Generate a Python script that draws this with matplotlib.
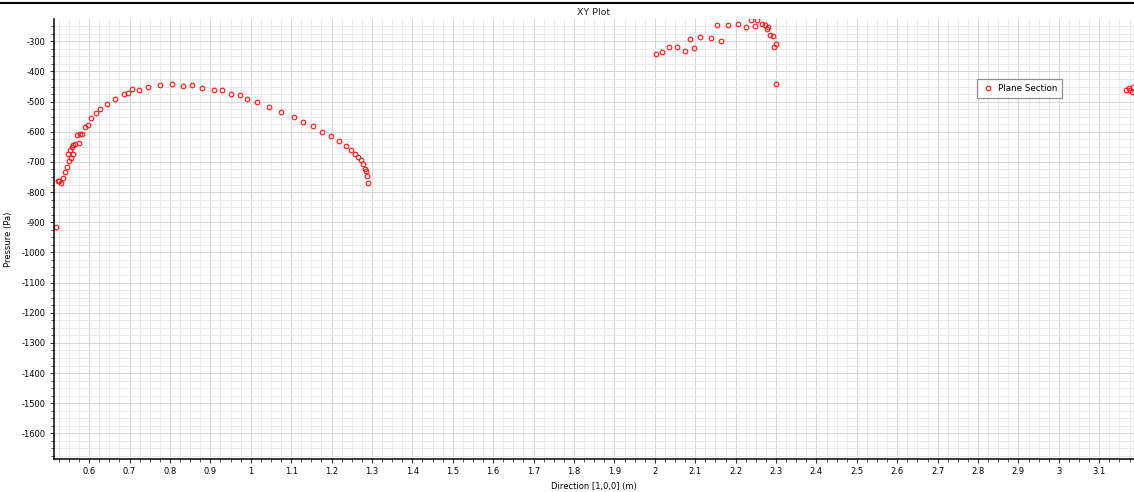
"""
XY Plot: pressure along the plane section, direction [1,0,0]
"""
import matplotlib
matplotlib.use("Agg")
import matplotlib.pyplot as plt
from matplotlib.lines import Line2D
from matplotlib.ticker import MultipleLocator, FuncFormatter

# ── data (m, Pa) ──
arc_x = [0.518, 0.523, 0.526, 0.530, 0.535, 0.541, 0.546, 0.550, 0.554, 0.560,
         0.547, 0.553, 0.557, 0.561, 0.566, 0.574, 0.570, 0.578, 0.583, 0.590,
         0.597, 0.605, 0.616, 0.628, 0.643, 0.663, 0.686, 0.697, 0.706, 0.723,
         0.746, 0.775, 0.805, 0.833, 0.855, 0.880, 0.908, 0.928, 0.951, 0.973,
         0.991, 1.015, 1.044, 1.075, 1.107, 1.130, 1.154, 1.177, 1.198, 1.218,
         1.235, 1.249, 1.258, 1.266, 1.274, 1.279, 1.283, 1.286, 1.288, 1.291]
arc_y = [-916, -764, -763, -771, -754, -734, -716, -697, -686, -674,
         -674, -661, -651, -645, -641, -636, -612, -606, -606, -584,
         -578, -555, -537, -525, -507, -490, -474, -470, -459, -461,
         -451, -444, -443, -448, -444, -455, -461, -462, -475, -478,
         -492, -502, -517, -533, -551, -568, -582, -600, -615, -631,
         -648, -661, -673, -684, -694, -708, -724, -730, -746, -770]

mid_x = [2.002, 2.017, 2.035, 2.056, 2.075, 2.097, 2.088, 2.113, 2.139, 2.164,
         2.155, 2.182, 2.206, 2.225, 2.239, 2.254, 2.248, 2.265, 2.273, 2.280,
         2.277, 2.286, 2.292, 2.299, 2.295, 2.301]
mid_y = [-342, -336, -320, -319, -333, -323, -291, -287, -288, -300,
         -245, -247, -243, -254, -228, -229, -249, -243, -247, -251,
         -259, -279, -281, -310, -319, -442]

edge_x = [3.167, 3.173, 3.176, 3.181, 3.183, 3.190, 0.517]
edge_y = [-463, -455, -460, -468, -453, -472, -1697]

xs = arc_x + mid_x + edge_x
ys = arc_y + mid_y + edge_y

fs = 6
fig = plt.figure(figsize=(11.34, 4.92), dpi=100)
ax = fig.add_axes([54 / 1134, 33 / 492, 1080 / 1134, 440 / 492])

ax.plot(xs, ys, "o", mfc="none", mec="#ff1a1a", ms=3.3, mew=0.85,
        label="Plane Section", clip_on=True)

ax.set_xlim(0.513, 3.186)
ax.set_ylim(-1685, -226)

ax.xaxis.set_major_locator(MultipleLocator(0.1))
ax.xaxis.set_minor_locator(MultipleLocator(0.025))
ax.yaxis.set_major_locator(MultipleLocator(100))
ax.yaxis.set_minor_locator(MultipleLocator(25))
ax.xaxis.set_major_formatter(FuncFormatter(lambda v, p: f"{round(v, 3):g}"))
ax.yaxis.set_major_formatter(FuncFormatter(lambda v, p: f"{int(round(v))}"))

ax.grid(True, which="major", color="#d6d6d6", lw=0.75, snap=True)
ax.grid(True, which="minor", color="#e8e8e8", lw=0.7, snap=True)
ax.set_axisbelow(True)

ax.tick_params(which="major", direction="out", length=3, width=0.8,
               labelsize=fs, pad=3, color="#333333")
ax.tick_params(which="minor", direction="out", length=2, width=0.6,
               color="#333333")

for s in ["top", "right"]:
    ax.spines[s].set_visible(False)
for s in ["left", "bottom"]:
    ax.spines[s].set_color("black")
    ax.spines[s].set_linewidth(1.1)

ax.set_title("XY Plot", fontsize=6.8, pad=3, color="#222222")
ax.set_xlabel("Direction [1,0,0] (m)", fontsize=fs, labelpad=4)
ax.set_ylabel("Pressure (Pa)", fontsize=fs, labelpad=6)

leg = ax.legend(loc="upper left", bbox_to_anchor=(0.851, 0.873), fontsize=6.3,
                frameon=True, fancybox=False, edgecolor="#777777",
                borderpad=0.55, handletextpad=0.6, handlelength=1.2)
leg.get_frame().set_linewidth(0.9)

# window border line along the top
fig.add_artist(Line2D([0, 1], [1 - 3 / 492, 1 - 3 / 492], color="black",
                      lw=1.5, transform=fig.transFigure))

fig.savefig("out.png", dpi=100)
